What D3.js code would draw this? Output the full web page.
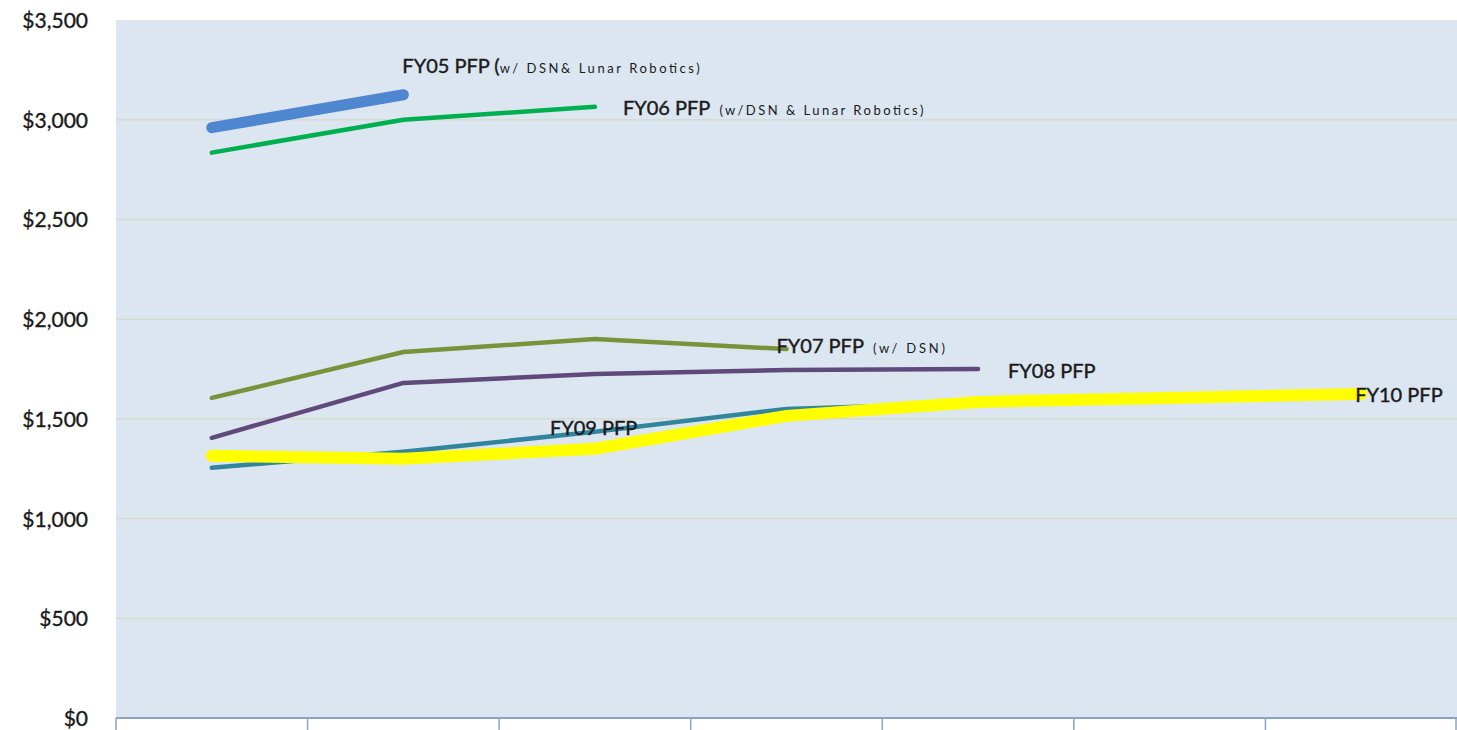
<!DOCTYPE html>
<html>
<head>
<meta charset="utf-8">
<script src="https://cdn.jsdelivr.net/npm/d3@7"></script>
<style>
  html, body { margin: 0; padding: 0; background: #ffffff; }
  svg { display: block; }
</style>
</head>
<body>
<svg id="chart" width="1457" height="730"></svg>
<script>
// ---- data ----
const categories = ["c1", "c2", "c3", "c4", "c5", "c6", "c7"];
const categoryLabels = ["", "", "", "", "", "", ""];
const yTicks = [0, 500, 1000, 1500, 2000, 2500, 3000, 3500];

const fy05 = [2960, 3125];
const fy06 = [2835, 3000, 3065];
const fy07 = [1605, 1835, 1900, 1850];
const fy08 = [1405, 1680, 1725, 1745, 1750];
const fy09 = [1255, 1335, 1435, 1550, 1580];
const fy10 = [1315, 1300, 1350, 1515, 1585, 1605, 1625];

const seriesNames = ["FY05 PFP", "FY06 PFP", "FY07 PFP", "FY08 PFP", "FY09 PFP", "FY10 PFP"];
const seriesNotes = ["w/ DSN& Lunar Robotics)", "(w/DSN & Lunar Robotics)", "(w/ DSN)", "", "", ""];

// ---- styles / layout ----
const seriesList = [
  { name: seriesNames[0], note: seriesNotes[0], values: fy05, color: "#4f86d0", width: 11, label: { cat: 1, val: 3235, dx: -1 }, paren: true, noteLen: 200 },
  { name: seriesNames[1], note: seriesNotes[1], values: fy06, color: "#00b050", width: 4.5, label: { cat: 2, val: 3024, dx: 28 }, noteLen: 204 },
  { name: seriesNames[2], note: seriesNotes[2], values: fy07, color: "#77933c", width: 4.5, label: { cat: 3, val: 1830, dx: -10 }, noteLen: 72 },
  { name: seriesNames[3], note: seriesNotes[3], values: fy08, color: "#604a7b", width: 4.5, label: { cat: 4, val: 1705, dx: 30 } },
  { name: seriesNames[4], note: seriesNotes[4], values: fy09, color: "#31859c", width: 4.5, label: { cat: 2, val: 1419, dx: -45 } },
  { name: seriesNames[5], note: seriesNotes[5], values: fy10, color: "#ffff00", width: 12, label: { cat: 6, val: 1585, dx: -6 } }
];

const svg = d3.select("#chart");
const W = 1457, H = 730;
const plot = { left: 116, right: 1457, top: 20, bottom: 718 };

const x = d3.scaleBand().domain(categories).range([plot.left, plot.right]).padding(0);
const y = d3.scaleLinear().domain([0, 3500]).range([plot.bottom, plot.top]);

// plot background
svg.append("rect")
  .attr("x", plot.left).attr("y", plot.top)
  .attr("width", plot.right - plot.left).attr("height", plot.bottom - plot.top)
  .attr("fill", "#dce6f1");

// gridlines
svg.append("g")
  .selectAll("line")
  .data(yTicks.filter(d => d > 0 && d < 3500))
  .join("line")
  .attr("x1", plot.left).attr("x2", plot.right)
  .attr("y1", d => y(d)).attr("y2", d => y(d))
  .attr("stroke", "#d6dccf").attr("stroke-width", 1.5);

// y axis labels
const yAxis = d3.axisLeft(y).tickValues(yTicks).tickSize(0).tickPadding(0)
  .tickFormat(d => "$" + d3.format(",")(d));
const yg = svg.append("g").attr("transform", `translate(${88},0)`).call(yAxis);
yg.select(".domain").remove();
yg.selectAll("text")
  .attr("font-family", "Lato, 'Open Sans', sans-serif")
  .attr("font-size", 21)
  .attr("fill", "#1a1a1a")
  .attr("stroke", "#1a1a1a")
  .attr("stroke-width", 0.35)
  .attr("dy", "0.36em");

// x axis: line + ticks at band edges
const xg = svg.append("g");
xg.append("line")
  .attr("x1", plot.left).attr("x2", plot.right)
  .attr("y1", plot.bottom).attr("y2", plot.bottom)
  .attr("stroke", "#8ba3c4").attr("stroke-width", 2);
const edges = categories.map(c => x(c)).concat([x.range()[1]]);
xg.selectAll("line.tick")
  .data(edges)
  .join("line")
  .attr("class", "tick")
  .attr("x1", d => Math.min(d, W - 1)).attr("x2", d => Math.min(d, W - 1))
  .attr("y1", plot.bottom).attr("y2", H)
  .attr("stroke", "#8ba3c4").attr("stroke-width", 1.5);
xg.selectAll("text.cat")
  .data(categories)
  .join("text")
  .attr("class", "cat")
  .attr("x", d => x(d) + x.bandwidth() / 2)
  .attr("y", H - 2)
  .attr("text-anchor", "middle")
  .text((d, i) => categoryLabels[i]);

// lines
const line = d3.line()
  .x((d, i) => x(categories[i]) + x.bandwidth() / 2)
  .y(d => y(d));

svg.append("g")
  .selectAll("path")
  .data(seriesList)
  .join("path")
  .attr("d", s => line(s.values))
  .attr("fill", "none")
  .attr("stroke", s => s.color)
  .attr("stroke-width", s => s.width)
  .attr("stroke-linecap", "round")
  .attr("stroke-linejoin", "round");

// labels
const lg = svg.append("g")
  .attr("font-family", "Lato, 'Open Sans', sans-serif")
  .attr("fill", "#1a1a1a");
seriesList.forEach(s => {
  const lx = x(categories[s.label.cat]) + x.bandwidth() / 2 + s.label.dx;
  const ly = y(s.label.val);
  const t = lg.append("text").attr("x", lx).attr("y", ly);
  t.append("tspan").attr("font-size", 20)
    .attr("stroke", "#1a1a1a").attr("stroke-width", 0.4)
    .text(s.name + (s.paren ? " (" : ""));
  if (s.note) {
    t.append("tspan")
      .attr("font-size", 13)
      .attr("dx", s.paren ? 0 : 9)
      .attr("textLength", s.noteLen)
      .attr("lengthAdjust", "spacing")
      .text(s.note);
  }
});
</script>
</body>
</html>
